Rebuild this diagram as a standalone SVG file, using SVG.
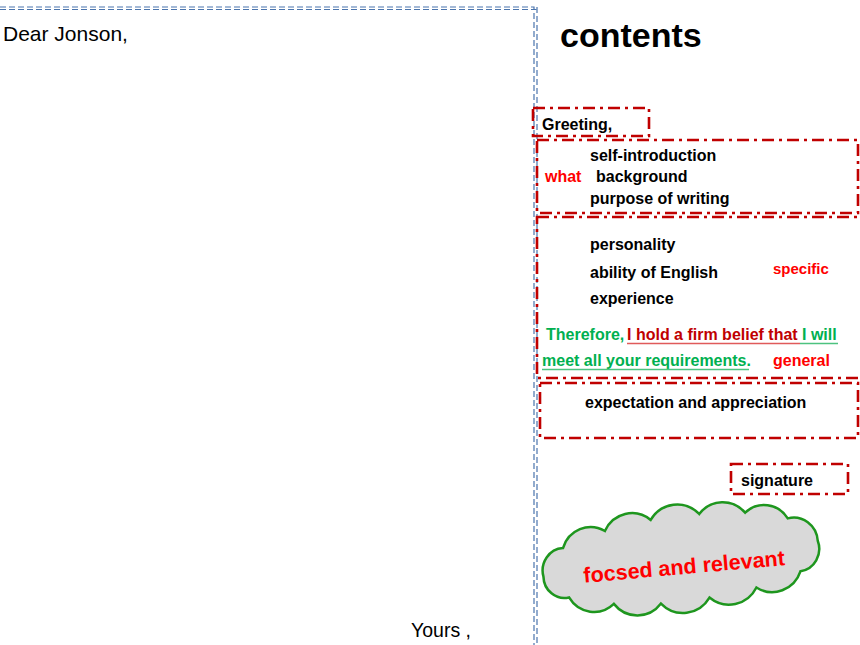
<svg xmlns="http://www.w3.org/2000/svg" width="860" height="645" viewBox="0 0 860 645">
<style>
.t{font-family:"Liberation Sans",Arial,sans-serif;font-weight:bold;font-size:16px;fill:#000}
.n{font-family:"Liberation Sans",Arial,sans-serif;font-size:21px;fill:#000}
.red{fill:#FF0000}
.dred{fill:#C00000}
.grn{fill:#00B050}
.box{fill:none;stroke:#C00000;stroke-width:2.6;stroke-dasharray:12 5 3 5}
.frame{fill:none;stroke:#4A74AD;stroke-width:1.2;stroke-dasharray:6 3}
.ul{stroke-width:1.3}
</style>
<rect width="860" height="645" fill="#fff"/>
<g id="letter">
  <path class="frame" d="M0 7 H534 V645"/>
  <path class="frame" d="M0 9.5 H536.5"/>
  <path class="frame" d="M537 7 V645"/>
  <text class="n" x="3" y="41">Dear Jonson,</text>
  <text class="n" x="411" y="637" style="font-size:19.5px">Yours ,</text>
</g>
<g id="title">
  <text class="t" x="560" y="47" style="font-size:34px">contents</text>
</g>
<g id="greeting">
  <rect class="box" x="533" y="108" width="116" height="28"/>
  <text class="t" x="542" y="130">Greeting,</text>
</g>
<g id="what">
  <rect class="box" x="537" y="140" width="321" height="73"/>
  <text class="t red" x="545" y="182">what</text>
  <text class="t" x="590" y="161">self-introduction</text>
  <text class="t" x="596" y="182">background</text>
  <text class="t" x="590" y="204">purpose of writing</text>
</g>
<g id="body">
  <rect class="box" x="537" y="217" width="330" height="161"/>
  <text class="t" x="590" y="250">personality</text>
  <text class="t" x="590" y="278">ability of English</text>
  <text class="t" x="590" y="304">experience</text>
  <text class="t red" x="773" y="274" style="font-size:15px">specific</text>
  <text class="t" y="340"><tspan class="grn" x="546">Therefore, </tspan><tspan class="dred" x="627">I hold a firm belief that</tspan><tspan class="grn" x="802">I will</tspan></text>
  <text class="t grn" x="542" y="366">meet all your requirements.</text>
  <text class="t red" x="773" y="366">general</text>
  <line class="ul" x1="627" y1="343.5" x2="800" y2="343.5" stroke="#E05A5A"/>
  <line class="ul" x1="800" y1="343.5" x2="838" y2="343.5" stroke="#4CC27F"/>
  <line class="ul" x1="542" y1="369.5" x2="749" y2="369.5" stroke="#4CC27F"/>
</g>
<g id="closing">
  <rect class="box" x="540" y="383" width="318" height="55"/>
  <text class="t" x="585" y="408">expectation and appreciation</text>
</g>
<g id="signature">
  <rect class="box" x="731" y="464" width="117" height="30"/>
  <text class="t" x="741" y="486">signature</text>
</g>
<g id="cloud">
  <path transform="translate(681.5,557.5) rotate(-7) scale(1.04,1.08)" vector-effect="non-scaling-stroke" fill="#D9D9D9" stroke="#1E961E" stroke-width="2.5" d="M-134 2 A21 21 0 0 1 -112 -22 A28 28 0 0 1 -70 -33 A29 29 0 0 1 -25 -38 A30 30 0 0 1 22 -38 A29 29 0 0 1 66 -34 A27 27 0 0 1 106 -24 A23 23 0 0 1 132 0 A21 21 0 0 1 112 26 A29 29 0 0 1 68 36 A30 30 0 0 1 22 40 A30 30 0 0 1 -25 40 A29 29 0 0 1 -70 35 A28 28 0 0 1 -112 24 A20 20 0 0 1 -134 2 Z"/>
  <text class="t red" x="684" y="574" text-anchor="middle" style="font-size:21.5px" transform="rotate(-5 684 566)">focsed and relevant</text>
</g>
</svg>
